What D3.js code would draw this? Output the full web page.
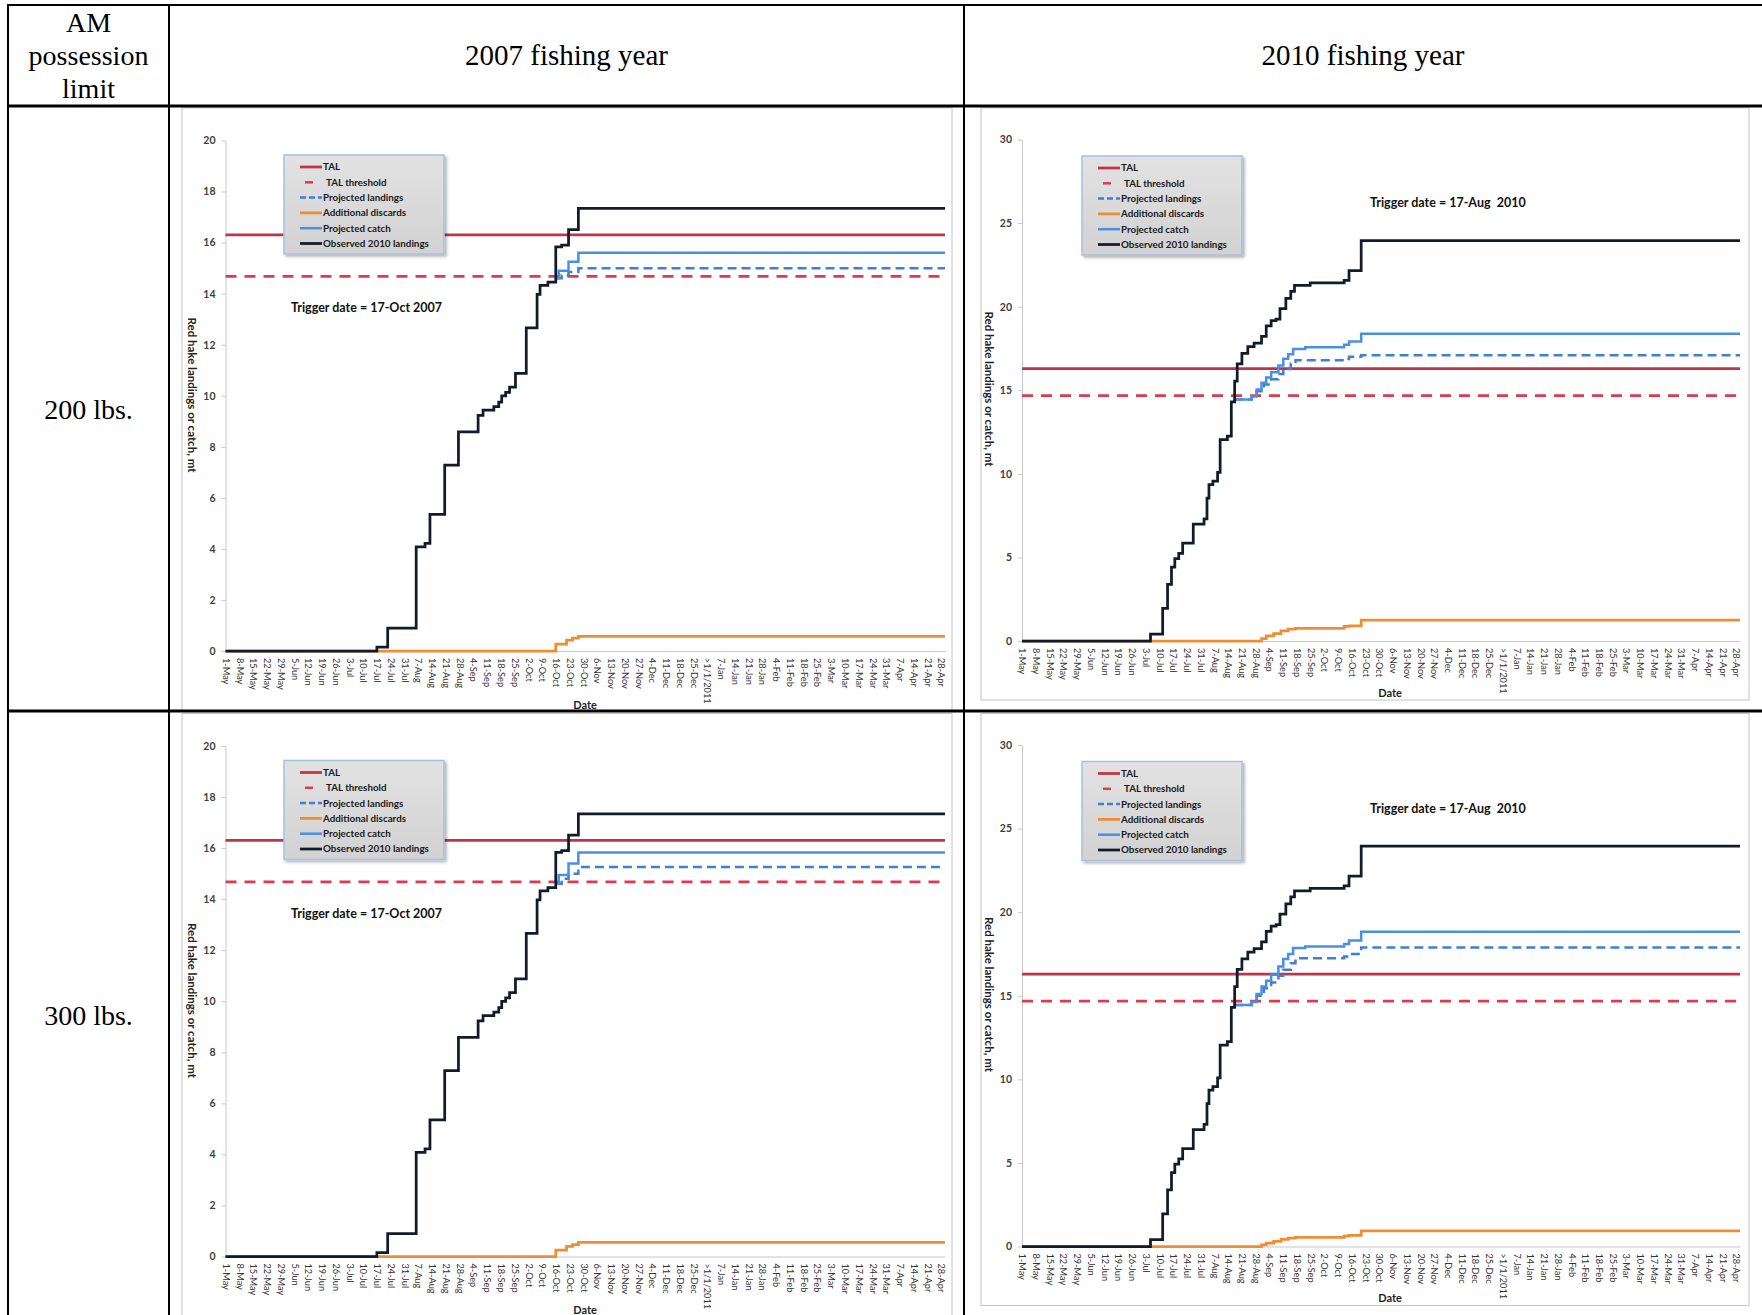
<!DOCTYPE html>
<html><head><meta charset="utf-8">
<script src="https://cdn.jsdelivr.net/npm/d3@7"></script>
<style>
html,body{margin:0;padding:0;background:#fff;}
svg{display:block;}
</style></head><body>
<svg id="c" width="1762" height="1315"></svg>
<script>
// ---------------- data ----------------
const weekLabels = ["1-May","8-May","15-May","22-May","29-May","5-Jun","12-Jun","19-Jun","26-Jun","3-Jul","10-Jul","17-Jul","24-Jul","31-Jul","7-Aug","14-Aug","21-Aug","28-Aug","4-Sep","11-Sep","18-Sep","25-Sep","2-Oct","9-Oct","16-Oct","23-Oct","30-Oct","6-Nov","13-Nov","20-Nov","27-Nov","4-Dec","11-Dec","18-Dec","25-Dec",">1/1/2011","7-Jan","14-Jan","21-Jan","28-Jan","4-Feb","11-Feb","18-Feb","25-Feb","3-Mar","10-Mar","17-Mar","24-Mar","31-Mar","7-Apr","14-Apr","21-Apr","28-Apr"];
const yearDays = 366;
const yTicks2007 = [0,2,4,6,8,10,12,14,16,18,20];
const yTicks2010 = [0,5,10,15,20,25,30];
const legendLabels = ["TAL","TAL threshold","Projected landings","Additional discards","Projected catch","Observed 2010 landings"];
const talValue = 16.3;
const thresholdValue = 14.68;
const triggerTexts = ["Trigger date = 17-Oct 2007","Trigger date = 17-Aug  2010"];
const headerCol1 = ["AM","possession","limit"];
const headerYears = ["2007 fishing year","2010 fishing year"];
const rowLabels = ["200 lbs.","300 lbs."];

// [day of fishing year, mt]
const observed2007 = [[0,0],[77,0.15],[82.5,0.9],[97,4.08],[101.5,4.22],[104,5.35],[111.5,7.28],[118.5,8.58],[128.5,9.23],[131,9.44],[136.5,9.57],[139,9.75],[140.5,10.0],[142.5,10.13],[144.5,10.34],[147.5,10.88],[153,12.66],[158.5,13.97],[160,14.32],[164,14.45],[168,15.83],[171,15.9],[174.5,16.51],[179.5,17.34],[366,17.34]];
const projLandings2007_200 = [[168,14.6],[171,14.72],[174.5,14.85],[179.5,15.0],[366,15.0]];
const projCatch2007_200 = [[168,14.6],[169.5,14.9],[174.5,15.25],[179.5,15.6],[366,15.6]];
const discards2007_200 = [[0,0],[168,0.27],[173.5,0.43],[176.5,0.5],[179.5,0.57],[366,0.57]];
const projLandings2007_300 = [[168,14.6],[171,14.8],[174.5,15.0],[179.5,15.26],[366,15.26]];
const projCatch2007_300 = [[168,14.6],[169.5,14.95],[174.5,15.4],[179.5,15.83],[366,15.83]];
const discards2007_300 = [[0,0],[168,0.25],[173.5,0.4],[176.5,0.47],[179.5,0.55],[366,0.55]];

const observed2010 = [[0,0],[65.5,0.41],[71.7,1.95],[74.2,3.39],[76.2,4.42],[77.9,4.93],[79.9,5.24],[81.9,5.86],[87.3,6.99],[92.8,7.3],[94.3,8.54],[95.3,9.36],[97.3,9.57],[99.7,10.09],[101,12.05],[104.7,12.25],[106.7,14.31],[108.4,15.55],[109.7,16.58],[112.1,17.2],[115.1,17.61],[118.3,17.82],[122.1,18.23],[124.5,18.85],[127,19.16],[129.5,19.26],[131.5,19.88],[134.5,20.5],[137,20.91],[138.9,21.28],[146.9,21.43],[164.2,21.57],[166.7,22.15],[172.9,23.95],[366,23.95]];
const projCatch2010_200 = [[108,14.45],[117.1,14.63],[119.6,15.04],[122.1,15.45],[124.5,15.76],[127,16.07],[130.7,16.48],[133.2,16.89],[135.7,17.16],[138.2,17.47],[144.4,17.57],[164.2,17.72],[166.7,17.92],[172.9,18.38],[366,18.38]];
const projLandings2010_200 = [[108,14.45],[117.1,14.63],[119.6,14.94],[123.3,15.35],[127,15.66],[130.7,15.97],[133.2,16.27],[137,16.58],[139.4,16.79],[164.2,16.87],[166.7,17.0],[172.9,17.1],[366,17.1]];
const discards2010_200 = [[0,0],[122.1,0.14],[124.5,0.3],[128.3,0.44],[132,0.6],[135.7,0.71],[139.4,0.75],[164.2,0.87],[166.7,0.91],[172.9,1.25],[366,1.25]];
const projCatch2010_300 = [[108,14.45],[117.1,14.63],[119.6,15.1],[122.1,15.55],[124.5,15.9],[127,16.25],[130.7,16.75],[133.2,17.2],[135.7,17.5],[138.2,17.85],[144.4,17.95],[164.2,18.1],[166.7,18.3],[172.9,18.83],[366,18.83]];
const projLandings2010_300 = [[108,14.45],[117.1,14.63],[119.6,15.0],[123.3,15.45],[127,15.8],[130.7,16.2],[133.2,16.55],[137,16.95],[139.4,17.25],[164.2,17.35],[166.7,17.5],[172.9,17.89],[366,17.89]];
const discards2010_300 = [[0,0],[122.1,0.1],[124.5,0.2],[128.3,0.3],[132,0.42],[135.7,0.5],[139.4,0.55],[164.2,0.62],[166.7,0.66],[172.9,0.93],[366,0.93]];

// ---------------- drawing ----------------
const svg = d3.select("#c");
const defs = svg.append("defs");
const flt = defs.append("filter").attr("id","sh").attr("x","-10%").attr("y","-10%").attr("width","130%").attr("height","130%");
flt.append("feDropShadow").attr("dx",2).attr("dy",2).attr("stdDeviation",1.5).attr("flood-color","#000").attr("flood-opacity",0.3);
const lg = defs.append("linearGradient").attr("id","lgd").attr("x1",0).attr("y1",0).attr("x2",0).attr("y2",1);
lg.append("stop").attr("offset","0%").attr("stop-color","#E2E2E2");
lg.append("stop").attr("offset","100%").attr("stop-color","#D2D2D2");

const tickDays = weekLabels.map((d,i)=>i*7);
const FONT = "Lato, 'Open Sans', sans-serif";

const styles = [
  {color:"#C0334A", width:2.75, dash:null},
  {color:"#DE3A4E", width:2.75, dash:"11,8"},
  {color:"#3D80D6", width:2.5, dash:"9,5"},
  {color:"#F08C32", width:2.75, dash:null},
  {color:"#4A90E2", width:2.5, dash:null},
  {color:"#111C2B", width:2.75, dash:null}
];

function drawPanel(L, D) {
  const g = svg.append("g");
  g.append("rect").attr("x",L.box[0]).attr("y",L.box[1]).attr("width",L.box[2]).attr("height",L.box[3])
    .attr("fill","#fff").attr("stroke","#C4C4C4").attr("stroke-width",1);
  const x = d3.scaleLinear().domain([0, yearDays]).range([L.left, L.right]);
  const y = d3.scaleLinear().domain([0, D.yTicks[D.yTicks.length-1]]).range([L.bottom, L.top]);

  const xa = g.append("g").attr("transform",`translate(0,${L.bottom})`)
    .call(d3.axisBottom(x).tickValues(tickDays).tickFormat((d,i)=>weekLabels[i]).tickSize(0).tickSizeOuter(0));
  xa.select(".domain").attr("stroke","#C8C8C8");
  xa.selectAll("text").attr("transform","rotate(90)").attr("x",7).attr("y",0).attr("dy","0.35em")
    .style("text-anchor","start").attr("font-family",FONT).attr("font-size",9.2).attr("fill","#333");

  const ya = g.append("g").attr("transform",`translate(${L.left},0)`)
    .call(d3.axisLeft(y).tickValues(D.yTicks).tickSize(4).tickSizeOuter(0).tickPadding(6));
  ya.select(".domain").attr("stroke","#C8C8C8");
  ya.selectAll(".tick line").attr("stroke","#C8C8C8");
  ya.selectAll("text").attr("font-family",FONT).attr("font-size",10.5).attr("font-weight","bold").attr("fill","#404040");

  g.append("text").attr("transform",`translate(${L.yTitle[0]},${L.yTitle[1]}) rotate(90)`)
    .attr("text-anchor","middle").attr("dy","0.35em").attr("font-family",FONT).attr("font-size",11.5).attr("font-weight","bold")
    .attr("fill","#222").text("Red hake landings or catch, mt");
  g.append("text").attr("x",L.date[0]).attr("y",L.date[1]).attr("text-anchor","middle").attr("dy","0.35em")
    .attr("font-family",FONT).attr("font-size",11).attr("font-weight","bold").attr("fill","#222").text("Date");

  const series = [
    [[0,talValue],[yearDays,talValue]],
    [[0,thresholdValue],[yearDays,thresholdValue]],
    D.projLandings, D.discards, D.projCatch, D.observed
  ];
  const line = d3.line().x(d=>x(d[0])).y(d=>y(d[1])).curve(d3.curveStepAfter);
  series.forEach((s,i)=>{
    const st = styles[i];
    g.append("path").datum(s).attr("d",line).attr("fill","none").attr("stroke",st.color)
      .attr("stroke-width",st.width).attr("stroke-dasharray",st.dash);
  });

  // legend
  const lgG = g.append("g").attr("transform",`translate(${L.legend[0]},${L.legend[1]})`);
  lgG.append("rect").attr("width",160).attr("height",99).attr("fill","url(#lgd)")
    .attr("stroke","#A8C0E0").attr("stroke-width",1.5).attr("filter","url(#sh)");
  legendLabels.forEach((lab,i)=>{
    const yy = 12 + i*15.3;
    const st = styles[i];
    if (i===1) {
      lgG.append("line").attr("x1",21).attr("x2",29).attr("y1",yy).attr("y2",yy).attr("stroke",st.color).attr("stroke-width",2.5);
    } else {
      lgG.append("line").attr("x1",16).attr("x2",38).attr("y1",yy).attr("y2",yy).attr("stroke",st.color)
        .attr("stroke-width",st.width).attr("stroke-dasharray", i===2 ? "6,3" : null);
    }
    lgG.append("text").attr("x", i===1 ? 42 : 39).attr("y",yy).attr("dy","0.35em")
      .attr("font-family",FONT).attr("font-size",9.8).attr("font-weight","bold").attr("fill","#1a1a1a").text(lab);
  });

  g.append("text").attr("x",L.trigger[0]).attr("y",L.trigger[1]).attr("dy","0.35em")
    .attr("font-family",FONT).attr("font-size",12.5).attr("font-weight","bold").attr("fill","#111")
    .style("white-space","pre").text(D.trigger);
}

const dy2 = 605.5;
const layoutL = (o)=>({box:[182,108+o,770,603], left:225.5, right:945, bottom:651+o, top:140.5+o,
  yTitle:[192,395+o], date:[585,705+o], legend:[284,155+o], trigger:[291,308+o]});
const layoutR = (o)=>({box:[981,108+o,768,592], left:1022, right:1740, bottom:641+o, top:139.5+o,
  yTitle:[989,389+o], date:[1390,693+o], legend:[1082,156+o], trigger:[1370,203+o]});

drawPanel(layoutL(0), {yTicks:yTicks2007, observed:observed2007, projLandings:projLandings2007_200, projCatch:projCatch2007_200, discards:discards2007_200, trigger:triggerTexts[0]});
drawPanel(layoutR(0), {yTicks:yTicks2010, observed:observed2010, projLandings:projLandings2010_200, projCatch:projCatch2010_200, discards:discards2010_200, trigger:triggerTexts[1]});
drawPanel(layoutL(dy2), {yTicks:yTicks2007, observed:observed2007, projLandings:projLandings2007_300, projCatch:projCatch2007_300, discards:discards2007_300, trigger:triggerTexts[0]});
drawPanel(layoutR(dy2), {yTicks:yTicks2010, observed:observed2010, projLandings:projLandings2010_300, projCatch:projCatch2010_300, discards:discards2010_300, trigger:triggerTexts[1]});

// ---------------- table ----------------
const T = svg.append("g");
const serif = "'Liberation Serif','Times New Roman',serif";
[[8,5,1762,5,2],[8,106,1762,106,3],[8,711,1762,711,3],
 [8,4,8,1315,2],[169,4,169,1315,2],[964,4,964,1315,2]].forEach(l=>{
  T.append("line").attr("x1",l[0]).attr("y1",l[1]).attr("x2",l[2]).attr("y2",l[3]).attr("stroke","#000").attr("stroke-width",l[4]);
});
headerCol1.forEach((t,i)=>{
  T.append("text").attr("x",88.5).attr("y",22+i*33).attr("dy","0.35em").attr("text-anchor","middle")
    .attr("font-family",serif).attr("font-size",28).text(t);
});
headerYears.forEach((t,i)=>{
  T.append("text").attr("x",[566.5,1363][i]).attr("y",55).attr("dy","0.35em").attr("text-anchor","middle")
    .attr("font-family",serif).attr("font-size",29).text(t);
});
rowLabels.forEach((t,i)=>{
  T.append("text").attr("x",88.5).attr("y",[409,1015][i]).attr("dy","0.35em").attr("text-anchor","middle")
    .attr("font-family",serif).attr("font-size",28).text(t);
});
</script>
</body></html>
